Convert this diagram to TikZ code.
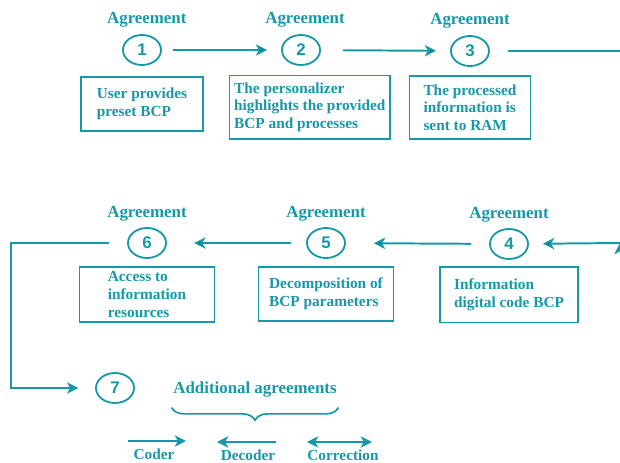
\documentclass[tikz,border=0pt]{standalone}
\usepackage{fontspec}
\setmainfont{Liberation Serif}
\newfontfamily\numfont{Liberation Sans}
\usetikzlibrary{arrows.meta,positioning,shapes.geometric,decorations.pathreplacing}
\definecolor{agreeteal}{RGB}{22,152,168}

\begin{document}
\begin{tikzpicture}[x=0.025cm,y=-0.025cm,semithick,node distance=0.25cm]
	  \tikzstyle{stage}=[ellipse,draw=agreeteal,line width=1.3pt,minimum width=0.95cm,minimum height=0.75cm,inner sep=0pt,text=agreeteal,font=\numfont\bfseries\fontsize{12}{14}\selectfont]
	  \tikzstyle{title}=[text=agreeteal,inner sep=1pt,font=\bfseries\fontsize{12}{14}\selectfont]
	  \tikzstyle{info}=[rectangle,draw=agreeteal,line width=1.2pt,fill=white,text=agreeteal,align=left,font=\bfseries\fontsize{10.9}{12.5}\selectfont]
	  \tikzstyle{legend}=[text=agreeteal,inner sep=1pt,font=\bfseries\fontsize{10.9}{12.5}\selectfont]
	  \tikzstyle{flow}=[draw=agreeteal,line width=1.4pt,-{Stealth[length=8pt,width=8pt,inset=2.2pt]}]

	  \useasboundingbox (0,0) rectangle (620,462);

	  % first row
	  \node[stage] (S1) at (142,50) {1};
	  \node[stage] (S2) at (301,50) {2};
	  \node[stage] (S3) at (470,51) {3};

	  \node[title] (A1) [above=0.12cm of S1,xshift=0.12cm] {Agreement};
	  \node[title] (A2) [above=0.12cm of S2,xshift=0.1cm] {Agreement};
	  \node[title] (A3) [above=0.12cm of S3] {Agreement};

	  \node[info,minimum width=3.05cm,minimum height=1.35cm] (B1) [below=0.25cm of S1] {User provides\\preset BCP};
	  \node[info,minimum width=3.98cm,minimum height=1.58cm] (B2) [below=0.22cm of S2,xshift=0.22cm] {The personalizer\\highlights the provided\\BCP and processes};
	  \node[info,minimum width=3.03cm,minimum height=1.58cm] (B3) [below=0.2cm of S3] {The processed\\information is\\sent to RAM};

	  % second row
	  \node[stage] (S6) at (147,243) {6};
	  \node[stage] (S5) at (326,243) {5};
	  \node[stage] (S4) at (509,244) {4};

	  \node[title] (A6) [above=0.1cm of S6] {Agreement};
	  \node[title] (A5) [above=0.1cm of S5] {Agreement};
	  \node[title] (A4) [above=0.1cm of S4] {Agreement};

	  \node[info,minimum width=3.38cm,minimum height=1.38cm] (B6) [below=0.18cm of S6] {Access to\\information\\resources};
	  \node[info,minimum width=3.38cm,minimum height=1.35cm] (B5) [below=0.18cm of S5] {Decomposition of\\BCP parameters};
	  \node[info,minimum width=3.45cm,minimum height=1.38cm] (B4) [below=0.16cm of S4] {Information\\digital code BCP};

	  % third row
	  \node[stage] (S7) at (115,388) {7};
	  \node[title] (AA) at (255,390) {Additional agreements};

	  \coordinate (E1) at (620,51);
	  \coordinate (E2) at (620,243);
	  \coordinate (T1) at (11,243);

	  \path[flow]
	  (S1) edge[shorten <=0.28cm,shorten >=0.35cm] (S2)
	  (S2) edge[shorten <=0.55cm,shorten >=0.35cm] (S3)
	  (E2) edge[shorten >=0.35cm] (S4)
	  (S4) edge[shorten <=0.45cm,shorten >=0.7cm] (S5)
	  (S5) edge[shorten <=0.38cm,shorten >=0.68cm] (S6)
	  ;
	  \draw[agreeteal,line width=1.4pt,shorten <=0.45cm] (S3) -- (E1);
	  \draw[flow,shorten <=0.45cm,shorten >=0.42cm] (S6) -- (T1) |- (S7);

	  \draw[agreeteal,line width=1.2pt,decorate,decoration={brace,mirror,amplitude=9pt}]
	    ([yshift=-0.2cm]AA.south west) -- ([yshift=-0.2cm]AA.south east);

	  % legend
	  \node[legend] (coder) at (154,454) {Coder};
	  \node[legend] (decoder) at (248,455) {Decoder};
	  \node[legend] (corr) at (343,455) {Correction};

	  \coordinate (C1) at (128,441);
	  \coordinate (C2) at (186,441);
	  \coordinate (D1) at (276,442);
	  \coordinate (D2) at (217,442);
	  \coordinate (R1) at (307,442);
	  \coordinate (R2) at (372,442);

	  \draw[flow] (C1) -- (C2);
	  \draw[flow] (D1) -- (D2);
	  \draw[flow,{Stealth[length=8pt,width=8pt,inset=2.2pt]}-{Stealth[length=8pt,width=8pt,inset=2.2pt]}] (R1) -- (R2);
\end{tikzpicture}
\end{document}
